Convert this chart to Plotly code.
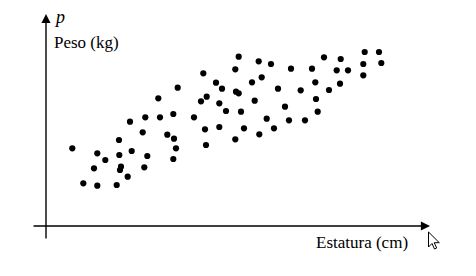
import plotly.graph_objects as go

# Data (units: horizontal / vertical distance from the axes' origin)
estatura = [26.3, 51.3, 59.3, 48, 37.3, 51.3, 70.7, 81.7, 74, 75, 73.3, 73, 85.7, 98.3, 101.3,
            96.7, 84, 99.3, 112.3, 114, 127.3, 121.3, 128, 130, 127.3, 131.7, 157.3, 155, 160.7,
            148, 159, 160, 192.7, 189.3, 212.7, 225, 170, 176, 190, 192.7, 206, 215.7, 173.3, 180,
            173.3, 195, 208.7, 189.3, 198, 213.3, 220.7, 228, 232, 239, 243, 245, 254.7, 259, 266,
            269.3, 270, 271.7, 278, 283, 290.7, 294.7, 294, 302, 317.3, 317.3, 318.7, 333, 335.3]
peso = [77.7, 72.7, 66, 57.7, 42.7, 40.3, 41, 49.3, 56, 59.3, 71, 86, 75, 58.7, 70,
        93.7, 104.3, 108.7, 127.7, 108.7, 112, 91.3, 87.3, 77.7, 67, 138.3, 152.7, 124.7, 129.3,
        108.7, 96.7, 81, 169.3, 156.7, 164.7, 162, 143.3, 137.3, 134.3, 132.7, 143.7, 148.7, 122.7, 115,
        99, 114.3, 125.3, 86.7, 97.7, 91.7, 107.3, 97.7, 137.3, 119.3, 105.7, 157.3, 135.7, 105.7, 157.3,
        143.7, 127, 114.3, 168.7, 136, 155.7, 167, 142.3, 155.7, 162, 150.7, 174, 174, 163]

x_label = "Estatura (cm)"
y_label = "Peso (kg)"
y_symbol = "p"

FONT = "'Liberation Serif', 'DejaVu Serif', serif"

fig = go.Figure()
fig.add_trace(go.Scatter(x=estatura, y=peso, mode="markers",
                         marker=dict(color="black", size=6.2, line=dict(width=0)),
                         hoverinfo="skip", showlegend=False))

# axes with arrows
fig.add_annotation(x=384, y=0, ax=-14, ay=0, xref="x", yref="y", axref="x", ayref="y",
                   text="", showarrow=True, arrowhead=2, arrowsize=1.3, arrowwidth=1.4,
                   arrowcolor="black", standoff=0, startstandoff=0)
fig.add_annotation(x=0, y=212, ax=0, ay=-14, xref="x", yref="y", axref="x", ayref="y",
                   text="", showarrow=True, arrowhead=2, arrowsize=1.3, arrowwidth=1.4,
                   arrowcolor="black", standoff=0, startstandoff=0)

# labels
fig.add_annotation(x=6, y=209, xref="x", yref="y", text="<i>" + y_symbol + "</i>",
                   showarrow=False, xanchor="left", yanchor="middle",
                   font=dict(family=FONT, size=18, color="black"))
fig.add_annotation(x=6, y=184, xref="x", yref="y", text=y_label,
                   showarrow=False, xanchor="left", yanchor="middle",
                   font=dict(family=FONT, size=17, color="black"))
fig.add_annotation(x=315.5, y=-16.5, xref="x", yref="y", text=x_label,
                   showarrow=False, xanchor="center", yanchor="middle",
                   font=dict(family=FONT, size=17, color="black"))

# mouse cursor glyph near the arrow tip
tx, ty = 382.5, -6
pts = [(0, 0), (0, 15), (3.5, 11.5), (6, 17), (8.2, 16), (5.7, 10.7), (10.8, 10.7)]
path = "M " + " L ".join(f"{tx + dx},{ty - dy}" for dx, dy in pts) + " Z"
fig.add_shape(type="path", path=path, xref="x", yref="y",
              fillcolor="white", line=dict(color="black", width=1))

fig.update_layout(
    width=476, height=276,
    margin=dict(l=0, r=0, t=0, b=0),
    paper_bgcolor="white", plot_bgcolor="white",
    font=dict(family=FONT),
    xaxis=dict(range=[-46, 430], visible=False, fixedrange=True),
    yaxis=dict(range=[-50, 226], visible=False, fixedrange=True),
)

fig.write_html("out.html")
